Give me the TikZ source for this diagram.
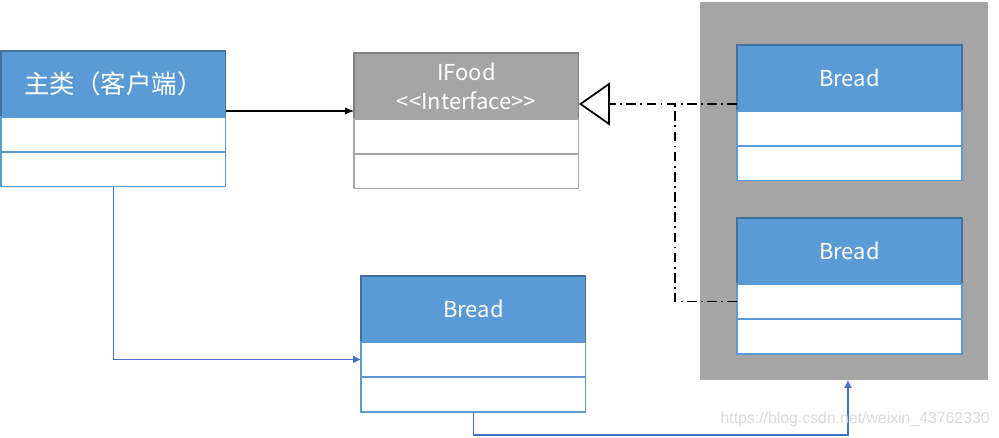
\documentclass[tikz,border=0pt]{standalone}
\usepackage{fontspec}
\newfontfamily\cjk{Noto Sans CJK SC}
\newfontfamily\markfont{Liberation Sans}
\usetikzlibrary{positioning,arrows.meta}

\definecolor{headblue}{HTML}{5B9BD5}
\definecolor{headedge}{HTML}{41719C}
\definecolor{ifacegray}{HTML}{A5A5A5}
\definecolor{ifaceedge}{HTML}{7F7F7F}
\definecolor{linkblue}{HTML}{4472C4}
\definecolor{markgray}{HTML}{DADADA}

\tikzset{
  head/.style={draw=headedge, fill=headblue, text=white, line width=0.6pt,
    minimum width=4.5cm, minimum height=1.32cm, inner sep=0pt, outer sep=0pt,
    anchor=north west, font=\cjk\fontsize{12.5}{16.5}\selectfont},
  slot/.style={draw=headblue, fill=white, line width=0.6pt,
    minimum width=4.5cm, minimum height=0.7cm, inner sep=0pt, outer sep=0pt},
  realize/.style={line width=1pt, dash pattern=on 5.5pt off 2.5pt on 1pt off 2.5pt},
  link/.style={draw=linkblue, line width=0.6pt, -{Latex[length=4.5pt,width=4.5pt]}}
}

\begin{document}
\begin{tikzpicture}[x=0.02cm, y=-0.02cm]
\useasboundingbox (0,0) rectangle (999,438);

% client:
\node[head, font=\cjk\fontsize{14.5}{16.5}\selectfont] (main) at (1,51) {主类（客户端）};
\node[slot, below=0pt of main] (main1) {};
\node[slot, below=0pt of main1] (main2) {};

% interface:
\node[head, draw=ifaceedge, fill=ifacegray, align=center] (ifood) at (354,53) {IFood\\<<Interface>>};
\node[slot, draw=ifacegray, below=0pt of ifood] (ifood1) {};
\node[slot, draw=ifacegray, below=0pt of ifood1] (ifood2) {};

% implementations:
\node[fill=ifacegray, minimum width=5.76cm, minimum height=7.56cm, inner sep=0pt,
  outer sep=0pt, anchor=north west] (impl) at (700,2) {};

\node[head] (breada) at (737,45) {Bread};
\node[slot, below=0pt of breada] (breada1) {};
\node[slot, below=0pt of breada1] (breada2) {};

\node[head] (breadb) at (737,218) {Bread};
\node[slot, below=0pt of breadb] (breadb1) {};
\node[slot, below=0pt of breadb1] (breadb2) {};

% the one in use:
\node[head] (bread) at (361,276) {Bread};
\node[slot, below=0pt of bread] (bread1) {};
\node[slot, below=0pt of bread1] (bread2) {};


\draw[line width=0.6pt, -{Latex[length=5pt,width=4pt]}] ([yshift=0.12cm]main.south east) -- ([yshift=0.12cm]main.south east -| ifood.west);

\coordinate (bend) at (675,103);
\draw[realize, -{Triangle[open, length=0.62cm, width=0.86cm, line width=1pt]}] ([yshift=0.14cm]breada.south west) -- ([yshift=0.14cm]breada.south west -| ifood.east);
\draw[realize] (breadb1.west) -| (bend);

\draw[link] (main2.south) |- (bread1.west);
\draw[link] (bread2.south) -- ++(0,23) -| ([xshift=0.08cm]impl.south);

% watermark:
\node[anchor=south east, inner sep=0pt, text=markgray, font=\markfont\fontsize{9}{11}\selectfont] (mark) at (990,427) {https://blog.csdn.net/weixin\_43762330};

\end{tikzpicture}
\end{document}
